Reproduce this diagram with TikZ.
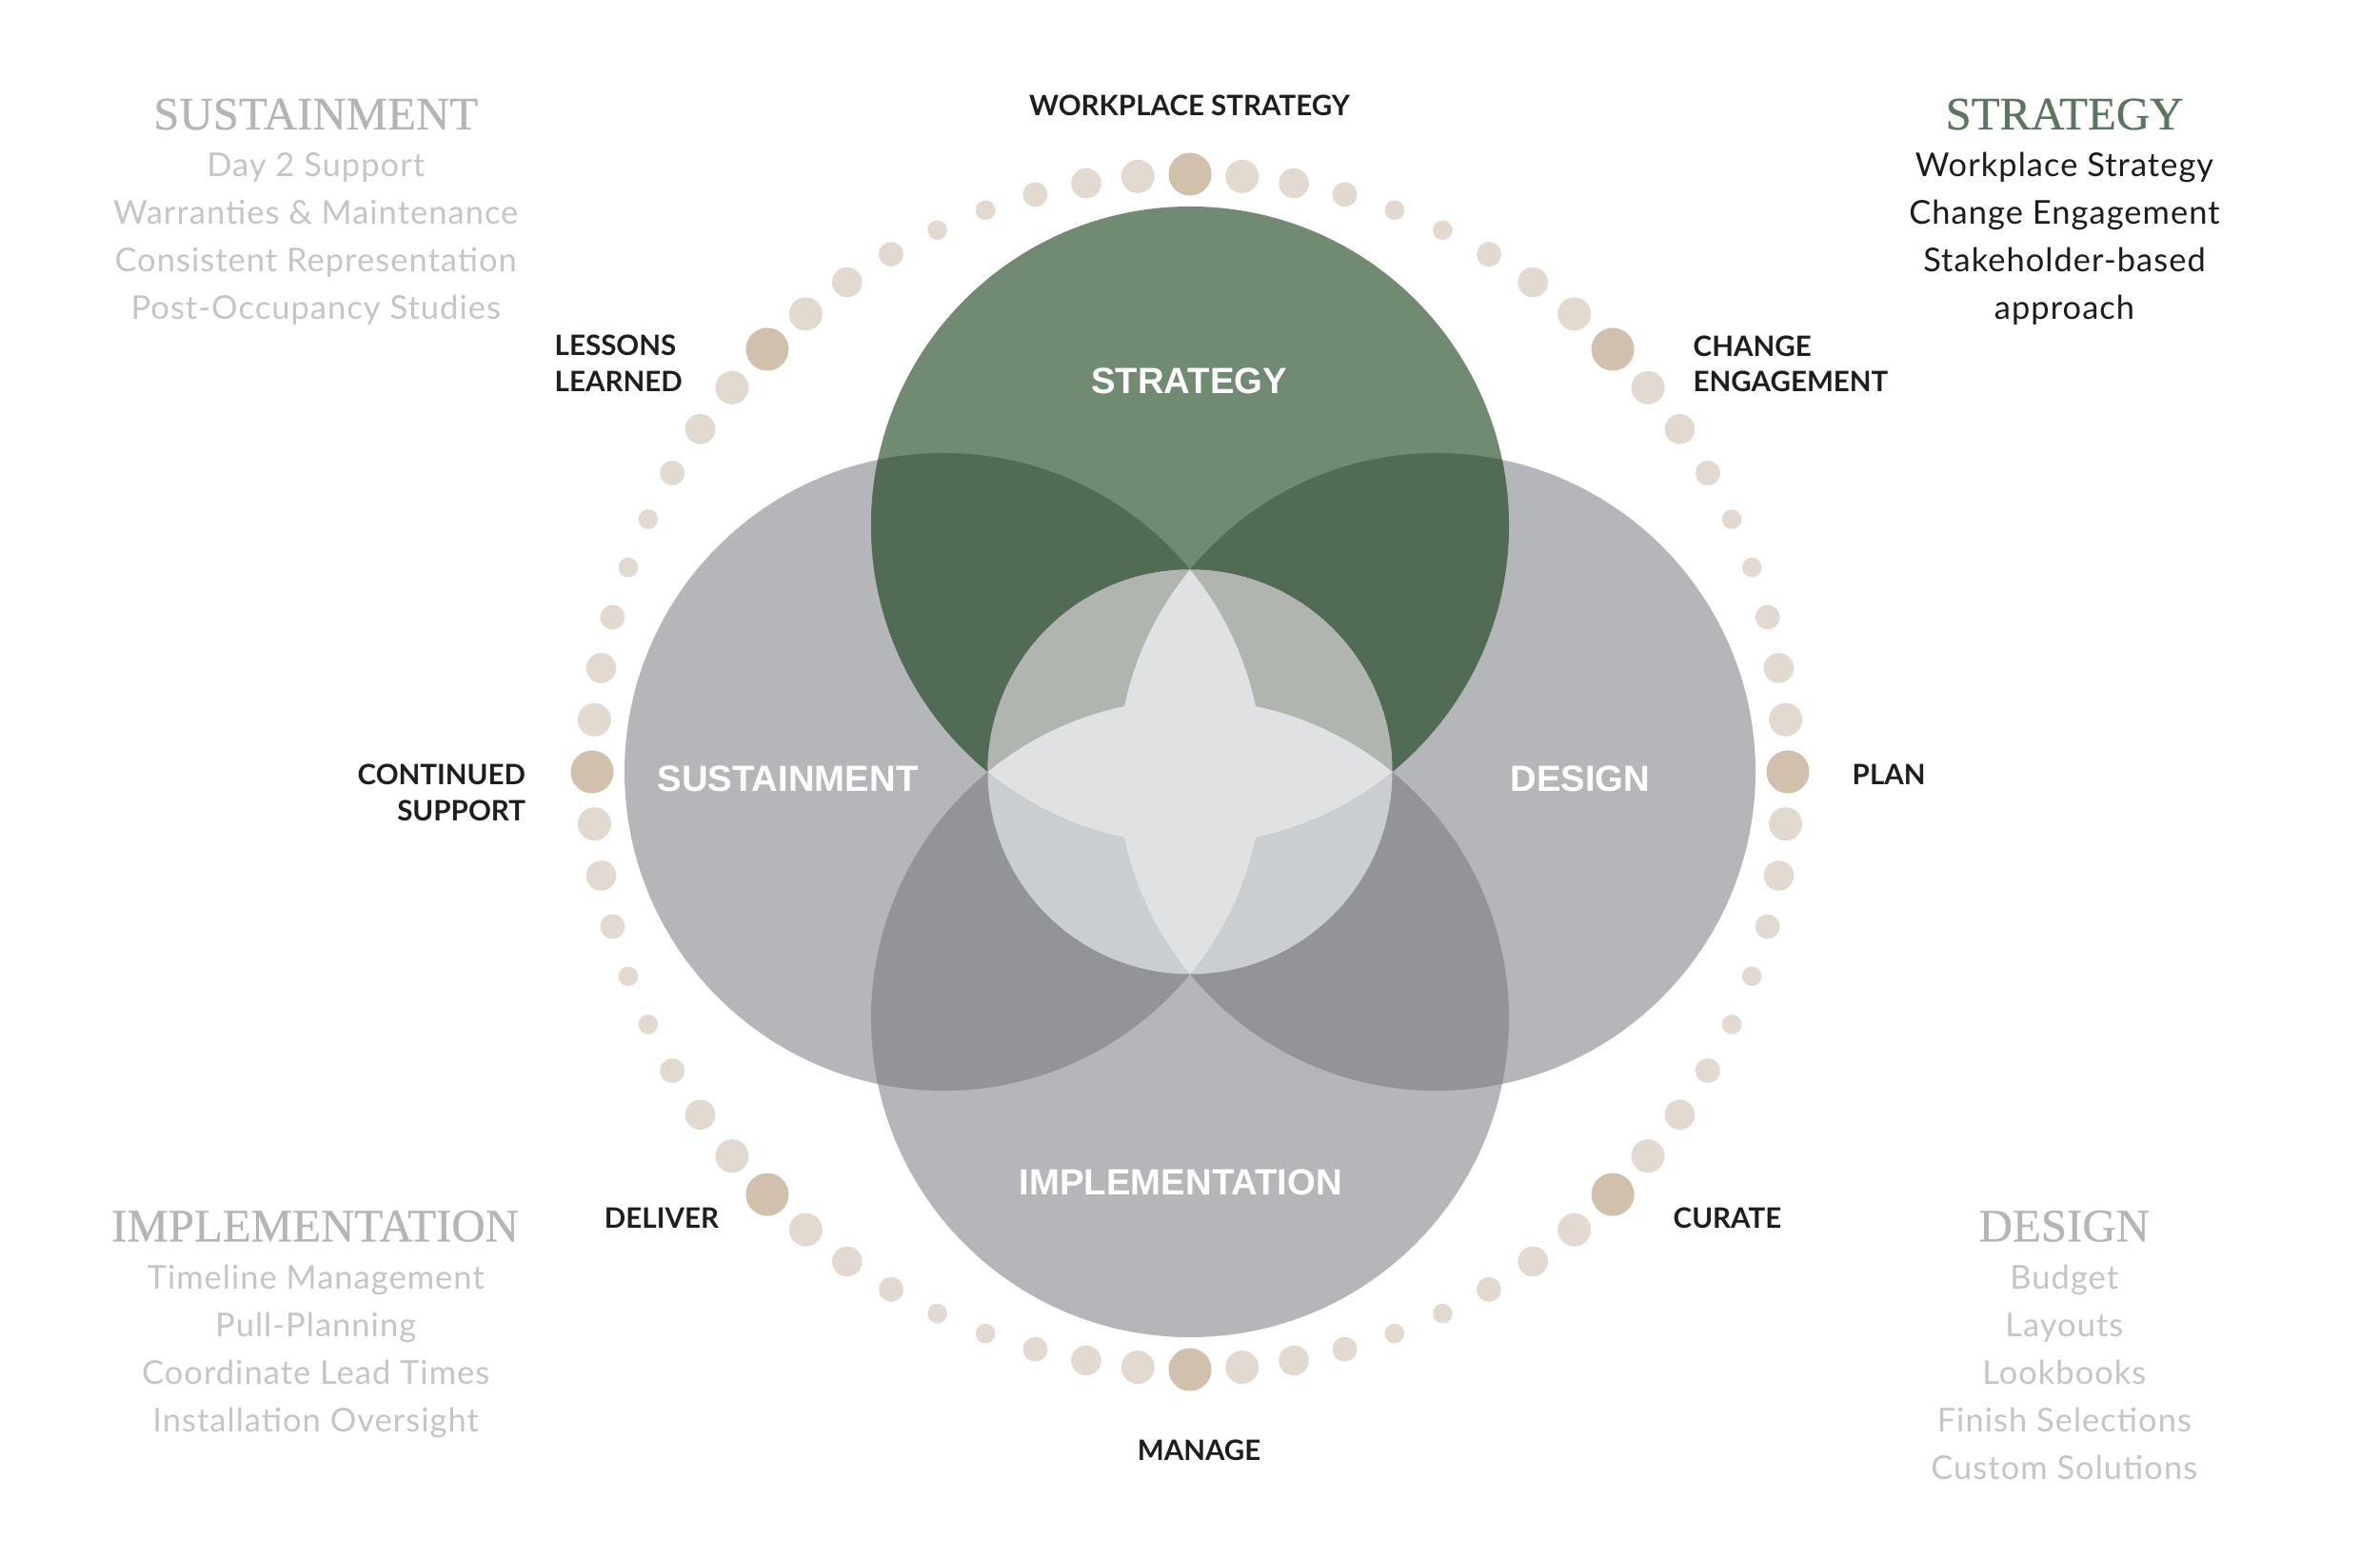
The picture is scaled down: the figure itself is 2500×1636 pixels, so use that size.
\documentclass[tikz,border=0pt]{standalone}
\usepackage{fontspec}
\setmainfont{Lato}
\newfontfamily\bodyfont{Lato}[LetterSpace=3]
\newfontfamily\headfont{Liberation Serif}[FakeBold=0.5]
\newfontfamily\circfont{Liberation Sans}

\definecolor{stratgreen}{HTML}{718B73}
\definecolor{stratdark}{HTML}{516B55}
\definecolor{phasegray}{HTML}{B5B6B9}
\definecolor{phasedark}{HTML}{939498}
\definecolor{corehi}{HTML}{B0B5AF}
\definecolor{corelo}{HTML}{CBCED1}
\definecolor{corestar}{HTML}{E0E1E3}
\definecolor{dotc}{HTML}{E2DAD1}
\definecolor{accent}{HTML}{D1C0AB}
\definecolor{labelc}{HTML}{1E1E1E}
\definecolor{headgray}{HTML}{B4B5B9}
\definecolor{bodygray}{HTML}{C4C5C8}
\definecolor{headgreen}{HTML}{5B7560}
\definecolor{bodyblack}{HTML}{1C1C1C}

\begin{document}
\begin{tikzpicture}
     [x=0.01cm, y=0.01cm,
      tag/.style={inner sep=0pt, text=labelc, font=\bfseries\fontsize{8.4}{10}\selectfont},
      ring label/.style={inner sep=0pt, anchor=base, text=white, font=\circfont\bfseries\fontsize{10.9}{12}\selectfont},
      head/.style={inner sep=0pt, anchor=base, font=\headfont\fontsize{13.9}{16}\selectfont},
      item/.style={inner sep=0pt, anchor=base, font=\bodyfont\fontsize{9.8}{12}\selectfont}]
   \useasboundingbox (0,0) rectangle (2500,1636);
   \fill[white] (0,0) rectangle (2500,1636);
   \coordinate (C) at (1250,825);
   \coordinate (str) at (1250,1084);
   \coordinate (sus) at (991,825);
   \coordinate (des) at (1509,825);
   \coordinate (imp) at (1250,566);
   % the four phases
   \fill[phasegray] (sus) circle[radius=335] (des) circle[radius=335] (imp) circle[radius=335];
   \fill[stratgreen] (str) circle[radius=335];
   \begin{scope}
     \clip (str) circle[radius=335];
     \fill[stratdark] (sus) circle[radius=335] (des) circle[radius=335];
   \end{scope}
   \begin{scope}
     \clip (imp) circle[radius=335];
     \fill[phasedark] (sus) circle[radius=335] (des) circle[radius=335];
   \end{scope}
   % the core
   \fill[corelo] (C) circle[radius=212.5];
   \begin{scope}
     \clip (C) circle[radius=212.5];
     \clip (str) circle[radius=335];
     \fill[corehi] (C) circle[radius=212.5];
   \end{scope}
   \begin{scope}
     \clip (sus) circle[radius=335];
     \fill[corestar] (des) circle[radius=335];
   \end{scope}
   \begin{scope}
     \clip (str) circle[radius=335];
     \fill[corestar] (imp) circle[radius=335];
   \end{scope}
   % ring of dots
   \foreach \q in {0,...,7}{
     \fill[accent] (C) ++({90-45*\q}:628) circle[radius=22.5];
     \foreach \r [count=\m] in {17.5,15.8,13,10.3,10.3,13,15.8,17.5}
       \fill[dotc] (C) ++({90-45*\q-5*\m}:628) circle[radius=\r];
   }
   \node[ring label] (lstr) at (1249,1222.7) {STRATEGY};
   \node[ring label] (lsus) at (827.5,804) {SUSTAINMENT};
   \node[ring label] (ldes) at (1659.8,804) {DESIGN};
   \node[ring label] (limp) at (1240.4,380) {IMPLEMENTATION};
   % steps round the ring
   \node[tag, anchor=base] (wps) at (1249.5,1514.3) {WORKPLACE STRATEGY};
   \node[tag, anchor=base west] (chg1) at (1778,1261.7) {CHANGE};
   \node[tag, anchor=base west] (chg2) at (1778,1224.3) {ENGAGEMENT};
   \node[tag, anchor=base west] (les1) at (582,1262) {LESSONS};
   \node[tag, anchor=base west] (les2) at (582,1224.5) {LEARNED};
   \node[tag, anchor=base east] (con1) at (552.7,811) {CONTINUED};
   \node[tag, anchor=base east] (con2) at (552.7,773) {SUPPORT};
   \node[tag, anchor=base west] (plan) at (1945,811) {PLAN};
   \node[tag, anchor=base west] (cur) at (1757,345) {CURATE};
   \node[tag, anchor=base east] (del) at (755.7,345) {DELIVER};
   \node[tag, anchor=base] (man) at (1259.6,101.3) {MANAGE};
   % corner lists
   \node[head, text=headgray] (hsus) at (331.7,1500) {SUSTAINMENT};
   \foreach \t [count=\i] in {Day 2 Support, Warranties \& Maintenance, Consistent Representation, Post-Occupancy Studies}
     \node[item, text=bodygray] (sus\i) at (331.7,1500-50*\i) {\t};
   \node[head, text=headgreen] (hstr) at (2168.5,1500) {STRATEGY};
   \foreach \t [count=\i] in {Workplace Strategy, Change Engagement, Stakeholder-based, approach}
     \node[item, text=bodyblack] (str\i) at (2168.5,1500-50*\i) {\t};
   \node[head, text=headgray] (himp) at (331,331.7) {IMPLEMENTATION};
   \foreach \t [count=\i] in {Timeline Management, Pull-Planning, Coordinate Lead Times, Installation Oversight}
     \node[item, text=bodygray] (imp\i) at (331.7,331.7-50*\i) {\t};
   \node[head, text=headgray] (hdes) at (2168.3,331.7) {DESIGN};
   \foreach \t [count=\i] in {Budget, Layouts, Lookbooks, Finish Selections, Custom Solutions}
     \node[item, text=bodygray] (des\i) at (2168.3,331.7-50*\i) {\t};
\end{tikzpicture}
\end{document}
